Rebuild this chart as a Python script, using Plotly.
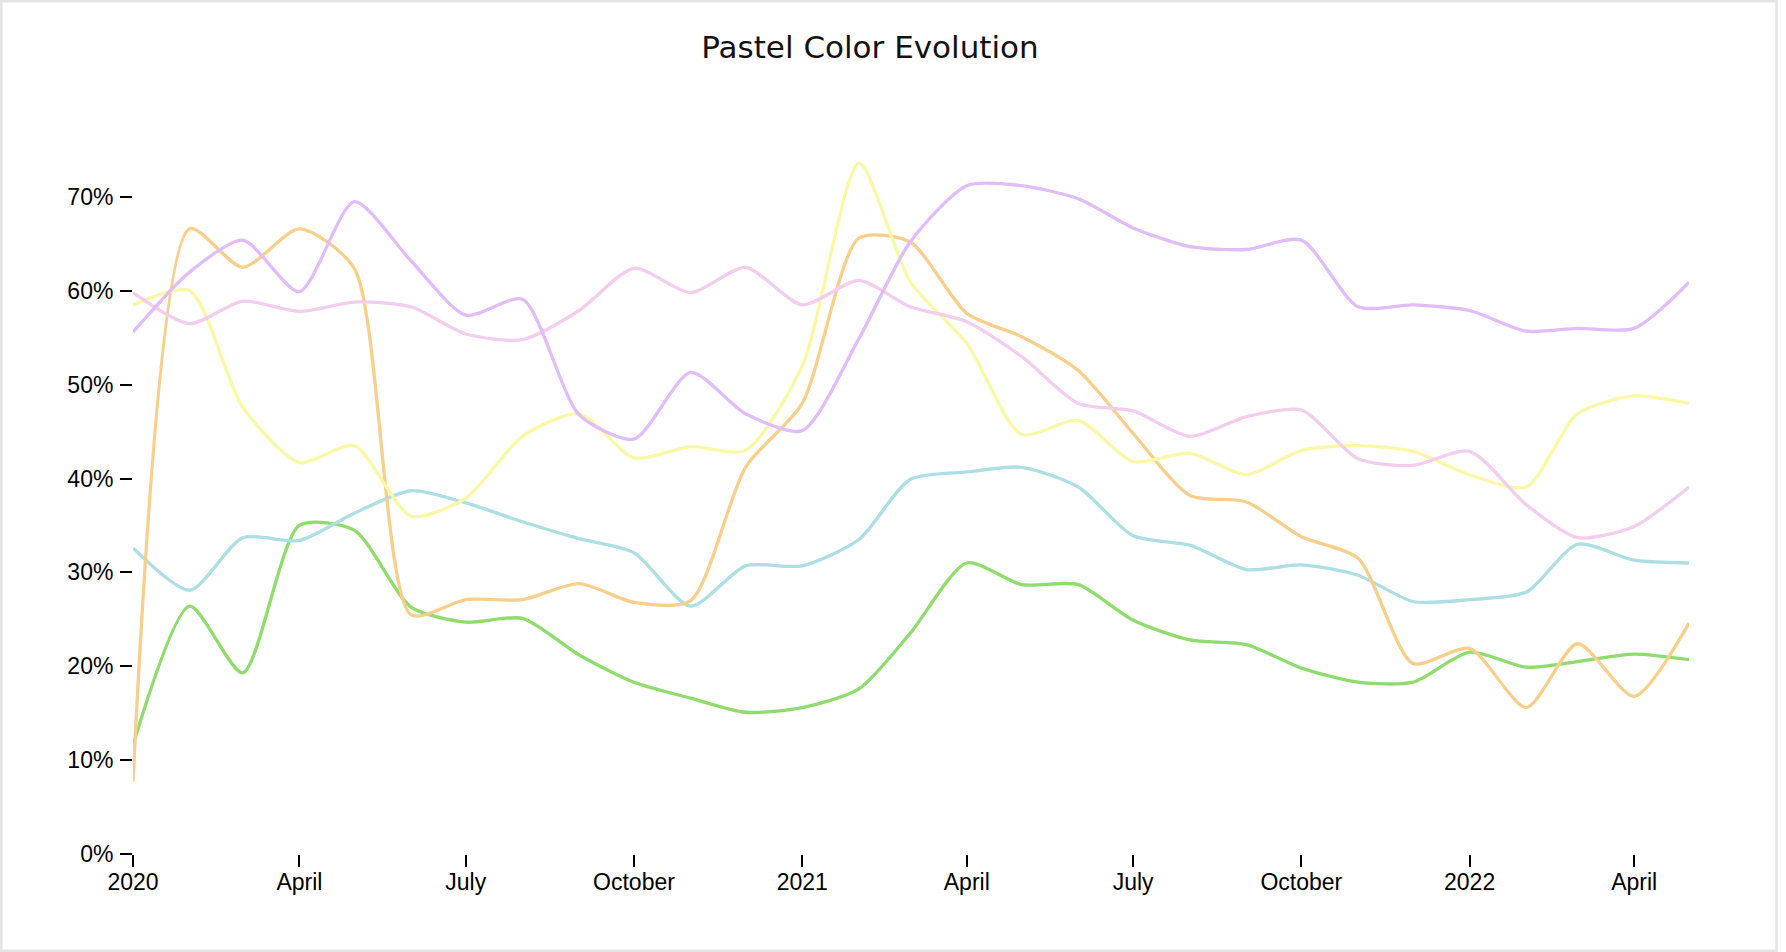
import plotly.graph_objects as go

months = ["2020-01-01", "2020-02-01", "2020-03-01", "2020-04-01", "2020-05-01", "2020-06-01",
          "2020-07-01", "2020-08-01", "2020-09-01", "2020-10-01", "2020-11-01", "2020-12-01",
          "2021-01-01", "2021-02-01", "2021-03-01", "2021-04-01", "2021-05-01", "2021-06-01",
          "2021-07-01", "2021-08-01", "2021-09-01", "2021-10-01", "2021-11-01", "2021-12-01",
          "2022-01-01", "2022-02-01", "2022-03-01", "2022-04-01", "2022-05-01"]

lavender = [55.6, 62.0, 65.4, 59.9, 69.5, 63.2, 57.4, 59.1, 46.8, 44.2, 51.3, 46.9, 45.1, 54.9,
            65.2, 71.2, 71.2, 69.8, 66.7, 64.7, 64.4, 65.4, 58.3, 58.5, 57.9, 55.7, 56.0, 56.0, 60.9]
pink = [59.8, 56.5, 58.9, 57.8, 58.8, 58.3, 55.4, 54.8, 57.9, 62.4, 59.8, 62.5, 58.5, 61.1,
        58.3, 56.7, 53.0, 48.0, 47.2, 44.5, 46.6, 47.3, 42.1, 41.4, 42.9, 37.2, 33.7, 34.9, 39.1]
yellow = [58.5, 60.0, 47.6, 41.7, 43.5, 36.0, 37.9, 44.5, 46.9, 42.2, 43.4, 43.0, 52.0, 73.6,
          61.0, 54.4, 44.7, 46.2, 41.8, 42.7, 40.4, 43.0, 43.5, 42.9, 40.4, 39.1, 46.9, 48.8, 48.0]
peach = [7.7, 66.6, 62.5, 66.6, 62.4, 25.5, 27.1, 27.1, 28.8, 26.8, 27.0, 41.2, 48.0, 65.6,
         65.2, 57.6, 55.1, 51.5, 44.8, 38.2, 37.5, 33.8, 31.5, 20.3, 21.9, 15.6, 22.4, 16.8, 24.6]
aqua = [32.6, 28.1, 33.7, 33.4, 36.3, 38.7, 37.4, 35.4, 33.6, 32.1, 26.4, 30.7, 30.7, 33.5,
        39.9, 40.7, 41.2, 39.1, 33.9, 32.9, 30.3, 30.8, 29.7, 26.9, 27.1, 27.9, 33.0, 31.3, 31.0]
green = [11.6, 26.4, 19.3, 35.0, 34.5, 26.3, 24.7, 25.1, 21.2, 18.3, 16.6, 15.1, 15.6, 17.6,
         23.5, 31.0, 28.7, 28.7, 24.9, 22.8, 22.3, 19.8, 18.3, 18.3, 21.5, 19.9, 20.5, 21.3, 20.7]

series = [
    ("Green", green, "#8fdc6d"),
    ("Aqua", aqua, "#abdfe3"),
    ("Peach", peach, "#f8cf8a"),
    ("Yellow", yellow, "#faf8a6"),
    ("Pink", pink, "#f3cdee"),
    ("Lavender", lavender, "#e0bdfa"),
]

x_tickvals = ["2020-01-01", "2020-04-01", "2020-07-01", "2020-10-01", "2021-01-01",
              "2021-04-01", "2021-07-01", "2021-10-01", "2022-01-01", "2022-04-01"]
x_ticktext = ["2020", "April", "July", "October", "2021", "April", "July", "October", "2022", "April"]
y_tickvals = [0, 0.1, 0.2, 0.3, 0.4, 0.5, 0.6, 0.7]

fig = go.Figure()
for name, vals, color in series:
    fig.add_trace(go.Scatter(
        x=months, y=[v / 100 for v in vals], name=name, mode="lines",
        line=dict(color=color, width=3.3, shape="spline", smoothing=0.7),
        hoverinfo="skip", showlegend=False,
    ))

W, H = 1786, 952
L, R, T, B = 133, 97, 150, 98
pw, ph = W - L - R, H - T - B

def px(xp):
    return (xp - L) / pw

def py(yp):
    return (H - B - yp) / ph

fig.update_layout(
    width=W, height=H,
    margin=dict(l=L, r=R, t=T, b=B),
    paper_bgcolor="white", plot_bgcolor="white",
    title=dict(text="Pastel Color Evolution", x=870 / W, xref="container", xanchor="center",
               y=1 - 47.5 / H, yref="container", yanchor="middle",
               font=dict(family="DejaVu Sans", size=31, color="#111111")),
    font=dict(family="Liberation Sans, Arial", size=23, color="#000000"),
    shapes=[dict(type="rect", xref="paper", yref="paper",
                 x0=px(1.3), x1=px(1776.5), y0=py(950.7), y1=py(1.3),
                 line=dict(color="#e4e4e4", width=2.5), fillcolor="rgba(0,0,0,0)", layer="below")],
)
fig.update_xaxes(
    type="date", range=["2020-01-01", "2022-05-01"],
    tickmode="array", tickvals=x_tickvals, ticktext=x_ticktext,
    ticks="outside", ticklen=12, tickwidth=2, tickcolor="#000000",
    ticklabelstandoff=-5,
    showgrid=False, zeroline=False, showline=False,
    tickfont=dict(family="Liberation Sans, Arial", size=23, color="#000000"),
)
fig.update_yaxes(
    range=[0, 0.75], tickmode="array", tickvals=y_tickvals, tickformat=".0%",
    ticks="outside", ticklen=12, tickwidth=2, tickcolor="#000000",
    ticklabelstandoff=2,
    showgrid=False, zeroline=False, showline=False,
    tickfont=dict(family="Liberation Sans, Arial", size=23, color="#000000"),
)

fig.write_html("out.html", config={"displayModeBar": False},
               post_script="document.body.style.margin='0px';document.body.style.overflow='hidden';")
